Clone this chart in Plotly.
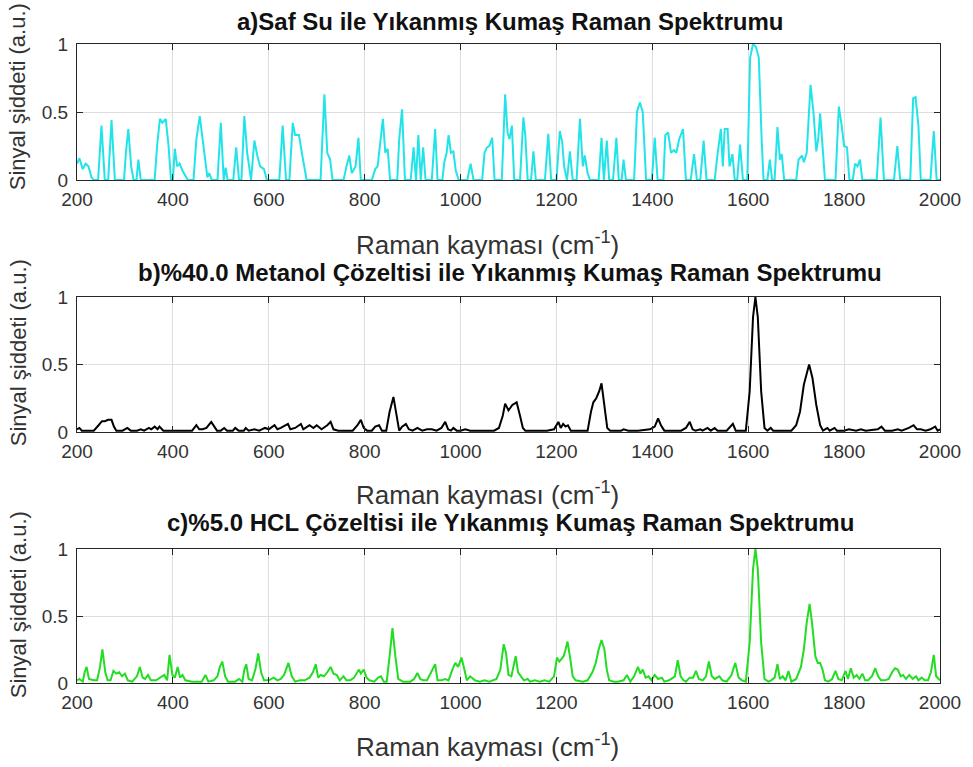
import plotly.graph_objects as go
from plotly.subplots import make_subplots

# ---------------- data ----------------
x_a = [200, 205, 212, 218, 224, 230, 235, 244, 251, 258, 265, 272, 279, 298, 302, 307, 313, 318, 324, 328, 333,
       362, 367, 373, 378, 385, 391, 396, 400, 404, 409, 414, 420, 426, 431, 443, 449, 456, 462, 467, 472, 476, 481,
       493, 500, 506, 510, 514, 526, 532, 538, 543, 549, 555, 563, 570, 576, 582, 590, 596,
       622, 629, 636, 643, 650, 655, 663, 669, 674, 679, 708, 716, 722, 728, 733,
       756, 762, 768, 773, 781, 787, 792, 815, 822, 827, 833, 838, 843, 848, 853,
       868, 872, 878, 884, 896, 902, 907, 912, 917, 922, 927, 940, 947, 952,
       962, 966, 971, 975, 980, 985, 990, 996, 1014, 1021, 1027,
       1045, 1050, 1055, 1060, 1066, 1071, 1086, 1093, 1098, 1102, 1107, 1112,
       1124, 1131, 1135, 1140, 1147, 1152, 1157, 1176, 1183, 1189, 1200, 1207, 1212, 1216, 1222, 1228, 1234,
       1242, 1249, 1255, 1259, 1265, 1270, 1288, 1294, 1299, 1305, 1310, 1318, 1325, 1330, 1336, 1340, 1345,
       1362, 1368, 1374, 1380, 1387, 1399, 1405, 1411,
       1423, 1427, 1433, 1439, 1445, 1450, 1456, 1464, 1470, 1480, 1487, 1493, 1500, 1507, 1513,
       1530, 1536, 1543, 1547, 1551, 1557, 1561, 1567, 1572, 1577, 1583, 1589,
       1598, 1604, 1610, 1616, 1622, 1628, 1632, 1640, 1645, 1650, 1655, 1661, 1666, 1670, 1675,
       1700, 1705, 1712, 1716, 1722, 1730, 1736, 1742, 1746, 1750, 1756, 1760,
       1782, 1789, 1795, 1800, 1806, 1811, 1818, 1823, 1828, 1833, 1838,
       1868, 1876, 1883, 1904, 1911, 1917, 1938, 1944, 1949, 1955, 1960, 1980, 1987, 1993, 2000]
y_a = [0.12, 0.16, 0.08, 0.12, 0.10, 0.02, 0, 0, 0.40, 0, 0, 0.44, 0, 0, 0.20, 0.375, 0.10, 0, 0, 0.15, 0,
       0, 0.25, 0.45, 0.42, 0.45, 0.25, 0, 0, 0.23, 0.10, 0.12, 0.07, 0.03, 0, 0, 0.30, 0.47, 0.30, 0.12, 0.02, 0.05, 0,
       0, 0.42, 0, 0.09, 0, 0, 0.24, 0, 0, 0.47, 0.20, 0, 0.29, 0.18, 0.10, 0.08, 0,
       0, 0.40, 0, 0, 0.42, 0.33, 0.33, 0.20, 0.09, 0, 0, 0.63, 0.20, 0.15, 0,
       0, 0.10, 0.18, 0.05, 0.10, 0.31, 0, 0, 0.08, 0.10, 0.30, 0.45, 0.20, 0.23, 0,
       0, 0.30, 0.52, 0, 0, 0.24, 0, 0.33, 0, 0.24, 0, 0, 0.375, 0,
       0, 0.13, 0.20, 0.33, 0.20, 0.21, 0.07, 0, 0, 0.12, 0,
       0, 0.20, 0.24, 0.25, 0.31, 0, 0, 0.63, 0.35, 0.30, 0.40, 0,
       0, 0.46, 0.33, 0, 0, 0.21, 0, 0, 0.34, 0, 0, 0.36, 0.28, 0.10, 0, 0.21, 0,
       0, 0.45, 0.10, 0.18, 0.05, 0, 0, 0.31, 0, 0.29, 0, 0, 0.31, 0, 0, 0.15, 0,
       0, 0.50, 0.57, 0.50, 0, 0, 0.31, 0,
       0, 0.33, 0.35, 0.20, 0.22, 0.20, 0.30, 0.375, 0, 0, 0.19, 0, 0, 0.29, 0,
       0, 0.19, 0.375, 0.10, 0.375, 0.375, 0.10, 0.19, 0, 0, 0.26, 0,
       0, 0.90, 1.0, 0.98, 0.90, 0.30, 0, 0, 0.15, 0, 0, 0.39, 0.15, 0.19, 0,
       0, 0.15, 0.18, 0.13, 0.20, 0.70, 0.50, 0.21, 0.30, 0.49, 0.20, 0,
       0, 0.54, 0.40, 0.25, 0.24, 0, 0, 0.12, 0.10, 0.15, 0,
       0, 0.46, 0, 0, 0.25, 0, 0, 0.60, 0.61, 0.40, 0, 0, 0.36, 0, 0]

x_b = [200, 205, 210, 220, 235, 245, 252, 258, 265, 272, 277, 282, 295, 305, 312, 325, 333, 340, 350, 355, 362, 368,
       372, 380, 395, 400, 410, 425, 440, 449, 455, 462, 470, 480, 486, 492, 500, 507, 513, 525, 530, 537, 548, 552,
       558, 570, 580, 592, 600, 612, 618, 625, 640, 645, 655, 667, 672, 685, 693, 700, 710, 722, 729, 735, 745, 760,
       775, 785, 792, 798, 805, 815, 822, 830, 836, 845, 852, 860, 867, 872, 878, 886, 892, 900, 910, 920, 930, 940,
       950, 960, 968, 974, 980, 985, 992, 1000, 1010, 1020, 1040, 1055, 1070, 1080, 1088, 1093, 1100, 1108, 1117, 1124,
       1130, 1135, 1160, 1180, 1195, 1204, 1209, 1214, 1219, 1224, 1230, 1265, 1272, 1277, 1283, 1289, 1294, 1300,
       1306, 1312, 1325, 1335, 1340, 1350, 1370, 1395, 1405, 1412, 1418, 1425, 1440, 1460, 1470, 1478, 1484, 1490,
       1500, 1505, 1515, 1522, 1530, 1536, 1555, 1563, 1568, 1574, 1595, 1603, 1610, 1615, 1620, 1627, 1634, 1640,
       1647, 1652, 1690, 1700, 1708, 1716, 1727, 1734, 1742, 1750, 1756, 1765, 1770, 1780, 1785, 1800, 1810, 1825,
       1835, 1845, 1870, 1878, 1885, 1900, 1912, 1920, 1935, 1945, 1952, 1960, 1970, 1980, 1990, 1995, 2000]
y_b = [0.02, 0.03, 0.01, 0.01, 0.01, 0.05, 0.08, 0.08, 0.09, 0.09, 0.04, 0.01, 0.01, 0.03, 0.01, 0.01, 0.02, 0.01,
       0.03, 0.02, 0.04, 0.02, 0.04, 0.01, 0.01, 0.01, 0.01, 0.01, 0.01, 0.05, 0.02, 0.02, 0.03, 0.075, 0.04, 0.01,
       0.01, 0.03, 0.01, 0.01, 0.03, 0.01, 0.01, 0.03, 0.01, 0.02, 0.01, 0.03, 0.02, 0.05, 0.02, 0.03, 0.06, 0.02,
       0.03, 0.06, 0.02, 0.05, 0.03, 0.05, 0.02, 0.05, 0.075, 0.02, 0.01, 0.01, 0.01, 0.05, 0.09, 0.03, 0.01, 0.01,
       0.04, 0.05, 0.01, 0.01, 0.15, 0.26, 0.12, 0.01, 0.04, 0.06, 0.02, 0.01, 0.03, 0.01, 0.02, 0.02, 0.01, 0.03,
       0.075, 0.02, 0.01, 0.03, 0.01, 0.01, 0.02, 0.01, 0.01, 0.01, 0.01, 0.03, 0.12, 0.21, 0.16, 0.20, 0.22, 0.12,
       0.03, 0.01, 0.01, 0.01, 0.02, 0.075, 0.03, 0.06, 0.04, 0.05, 0.01, 0.01, 0.15, 0.22, 0.25, 0.30, 0.36, 0.20,
       0.03, 0.01, 0.01, 0.01, 0.02, 0.01, 0.01, 0.02, 0.04, 0.10, 0.05, 0.01, 0.01, 0.01, 0.03, 0.075, 0.02, 0.01,
       0.02, 0.01, 0.03, 0.01, 0.03, 0.01, 0.01, 0.04, 0.06, 0.01, 0.01, 0.30, 0.85, 1.0, 0.85, 0.30, 0.03, 0.01,
       0.03, 0.01, 0.01, 0.05, 0.15, 0.35, 0.50, 0.40, 0.20, 0.05, 0.01, 0.03, 0.01, 0.03, 0.01, 0.01, 0.02, 0.01,
       0.02, 0.01, 0.02, 0.04, 0.01, 0.01, 0.02, 0.01, 0.03, 0.05, 0.02, 0.02, 0.01, 0.02, 0.04, 0.01, 0.02]

x_c = [200, 205, 212, 216, 220, 225, 235, 242, 248, 253, 259, 264, 270, 276, 282, 288, 294, 300, 306, 315, 325, 331,
       337, 342, 348, 354, 365, 375, 382, 388, 393, 399, 404, 410, 415, 420, 426, 440, 460, 468, 474, 485, 493, 498,
       503, 509, 515, 530, 538, 545, 549, 553, 558, 565, 572, 578, 584, 590, 600, 610, 618, 625, 632, 641, 648, 655,
       665, 675, 685, 692, 698, 703, 708, 715, 722, 729, 735, 742, 748, 756, 762, 770, 778, 788, 792, 798, 804, 810,
       820, 828, 834, 840, 846, 852, 858, 864, 870, 880, 895, 903, 910, 916, 922, 930, 940, 947, 952, 960, 968, 975,
       983, 989, 995, 1002, 1008, 1013, 1020, 1030, 1040, 1050, 1060, 1075, 1083, 1090, 1095, 1100, 1106, 1110, 1115,
       1120, 1127, 1132, 1140, 1145, 1155, 1165, 1175, 1185, 1195, 1201, 1206, 1210, 1215, 1219, 1223, 1228, 1234,
       1240, 1255, 1265, 1275, 1282, 1288, 1294, 1300, 1305, 1310, 1320, 1328, 1340, 1347, 1354, 1362, 1370, 1375,
       1380, 1386, 1392, 1398, 1405, 1412, 1420, 1425, 1435, 1447, 1453, 1459, 1465, 1470, 1478, 1485, 1491, 1497,
       1505, 1512, 1518, 1524, 1530, 1540, 1546, 1555, 1565, 1573, 1580, 1587, 1595, 1603, 1610, 1615, 1620, 1627,
       1634, 1642, 1648, 1655, 1661, 1666, 1672, 1678, 1684, 1690, 1700, 1710, 1716, 1722, 1728, 1733, 1740, 1745,
       1750, 1755, 1760, 1767, 1775, 1782, 1788, 1795, 1803, 1808, 1814, 1820, 1826, 1832, 1838, 1844, 1850, 1858,
       1865, 1871, 1877, 1885, 1893, 1900, 1906, 1912, 1918, 1923, 1929, 1936, 1943, 1950, 1955, 1962, 1968, 1975,
       1981, 1987, 1992, 1997, 2000]
y_c = [0.02, 0.03, 0.01, 0.08, 0.12, 0.03, 0.02, 0.02, 0.12, 0.25, 0.08, 0.02, 0.02, 0.09, 0.07, 0.08, 0.05, 0.07,
       0.02, 0.01, 0.05, 0.12, 0.04, 0.03, 0.06, 0.02, 0.02, 0.04, 0.06, 0.02, 0.21, 0.06, 0.04, 0.12, 0.04, 0.06,
       0.02, 0.01, 0.01, 0.06, 0.01, 0.02, 0.05, 0.12, 0.16, 0.05, 0.01, 0.01, 0.03, 0.01, 0.10, 0.14, 0.03, 0.02,
       0.10, 0.22, 0.08, 0.02, 0.02, 0.04, 0.02, 0.03, 0.06, 0.15, 0.05, 0.01, 0.02, 0.02, 0.04, 0.08, 0.14, 0.04,
       0.06, 0.05, 0.08, 0.12, 0.07, 0.06, 0.02, 0.05, 0.02, 0.02, 0.04, 0.10, 0.07, 0.10, 0.04, 0.02, 0.01, 0.04,
       0.05, 0.01, 0.01, 0.20, 0.41, 0.20, 0.03, 0.01, 0.01, 0.03, 0.075, 0.03, 0.02, 0.02, 0.09, 0.14, 0.02, 0.02,
       0.03, 0.02, 0.10, 0.15, 0.12, 0.19, 0.10, 0.02, 0.05, 0.02, 0.01, 0.02, 0.01, 0.03, 0.10, 0.29, 0.22, 0.06,
       0.05, 0.12, 0.20, 0.08, 0.05, 0.02, 0.03, 0.01, 0.02, 0.01, 0.02, 0.01, 0.05, 0.19, 0.16, 0.18, 0.20, 0.25,
       0.31, 0.20, 0.05, 0.02, 0.01, 0.02, 0.08, 0.15, 0.25, 0.32, 0.25, 0.10, 0.02, 0.01, 0.01, 0.02, 0.06, 0.01,
       0.05, 0.12, 0.07, 0.10, 0.04, 0.05, 0.02, 0.06, 0.03, 0.04, 0.01, 0.02, 0.05, 0.17, 0.05, 0.02, 0.01, 0.04,
       0.04, 0.09, 0.03, 0.02, 0.05, 0.16, 0.05, 0.03, 0.05, 0.02, 0.01, 0.06, 0.15, 0.04, 0.02, 0.01, 0.30, 0.85,
       1.0, 0.85, 0.30, 0.03, 0.01, 0.02, 0.04, 0.14, 0.03, 0.05, 0.02, 0.09, 0.01, 0.03, 0.12, 0.25, 0.45, 0.59,
       0.45, 0.20, 0.15, 0.15, 0.10, 0.02, 0.01, 0.03, 0.09, 0.03, 0.02, 0.09, 0.03, 0.11, 0.04, 0.06, 0.03, 0.07,
       0.02, 0.02, 0.05, 0.11, 0.05, 0.02, 0.02, 0.03, 0.08, 0.11, 0.10, 0.05, 0.06, 0.03, 0.06, 0.03, 0.05, 0.02,
       0.04, 0.02, 0.02, 0.08, 0.21, 0.05, 0.03, 0.02]

titles = ["a)Saf Su ile Yıkanmış Kumaş Raman Spektrumu",
          "b)%40.0 Metanol Çözeltisi ile Yıkanmış Kumaş Raman Spektrumu",
          "c)%5.0 HCL Çözeltisi ile Yıkanmış Kumaş Raman Spektrumu"]
x_label = "Raman kayması (cm<sup>-1</sup>)"
y_label = "Sinyal şiddeti (a.u.)"
x_ticks = [200, 400, 600, 800, 1000, 1200, 1400, 1600, 1800, 2000]
y_ticks = [0, 0.5, 1]
y_ticktext = ["0", "0.5", "1"]
colors = ["#22e4e8", "#000000", "#22dd22"]

# ---------------- figure ----------------
W, H = 973, 767
ML, MR, MT, MB = 77, 30, 44, 84
PH = H - MT - MB

def py(pix):
    return 1 - (pix - MT) / PH

def px(pix):
    return (pix - ML) / (W - ML - MR)

fig = make_subplots(rows=3, cols=1)
domains = [(py(180), 1.0), (py(432), py(297)), (0.0, py(549))]
FONT = "Liberation Sans, Arial, sans-serif"
series = [(x_a, y_a), (x_b, y_b), (x_c, y_c)]
for i, (xs, ys) in enumerate(series):
    fig.add_trace(go.Scatter(x=xs, y=ys, mode="lines", line=dict(color=colors[i], width=2),
                             showlegend=False, hoverinfo="skip"), row=i + 1, col=1)

axis_common = dict(showline=True, linecolor="#262626", linewidth=1, mirror="ticks",
                   ticks="inside", ticklen=6, tickcolor="#262626",
                   showgrid=True, gridcolor="#dedede", gridwidth=1, zeroline=False,
                   tickfont=dict(family=FONT, size=19, color="#333333"))
for i in range(3):
    xa = "xaxis" if i == 0 else f"xaxis{i+1}"
    ya = "yaxis" if i == 0 else f"yaxis{i+1}"
    fig.layout[xa].update(range=[200, 2000], tickvals=x_ticks, ticklabelstandoff=2, **axis_common)
    fig.layout[ya].update(range=[0, 1], tickvals=y_ticks, ticktext=y_ticktext, ticklabelstandoff=4,
                          domain=list(domains[i]), **axis_common)

title_y = [22, 272, 522]
xlab_y = [243, 493, 745]
ylab_y = [97, 353, 605]
ann = []
for i in range(3):
    ann.append(dict(text=f"<b>{titles[i]}</b>", x=px(512), y=py(title_y[i]), xref="paper", yref="paper",
                    xanchor="center", yanchor="middle", showarrow=False,
                    font=dict(family=FONT, size=24, color="#111111")))
    ann.append(dict(text=x_label, x=px(489), y=py(xlab_y[i]), xref="paper", yref="paper",
                    xanchor="center", yanchor="middle", showarrow=False,
                    font=dict(family=FONT, size=26, color="#333333")))
    ann.append(dict(text=y_label, x=px(18), y=py(ylab_y[i]), xref="paper", yref="paper",
                    xanchor="center", yanchor="middle", showarrow=False, textangle=-90,
                    font=dict(family=FONT, size=22, color="#333333")))

fig.update_layout(width=W, height=H, margin=dict(l=ML, r=MR, t=MT, b=MB),
                  paper_bgcolor="white", plot_bgcolor="white", annotations=ann,
                  showlegend=False)
fig.write_html("out.html", config={"displayModeBar": False},
               post_script="document.body.style.margin='0';")
